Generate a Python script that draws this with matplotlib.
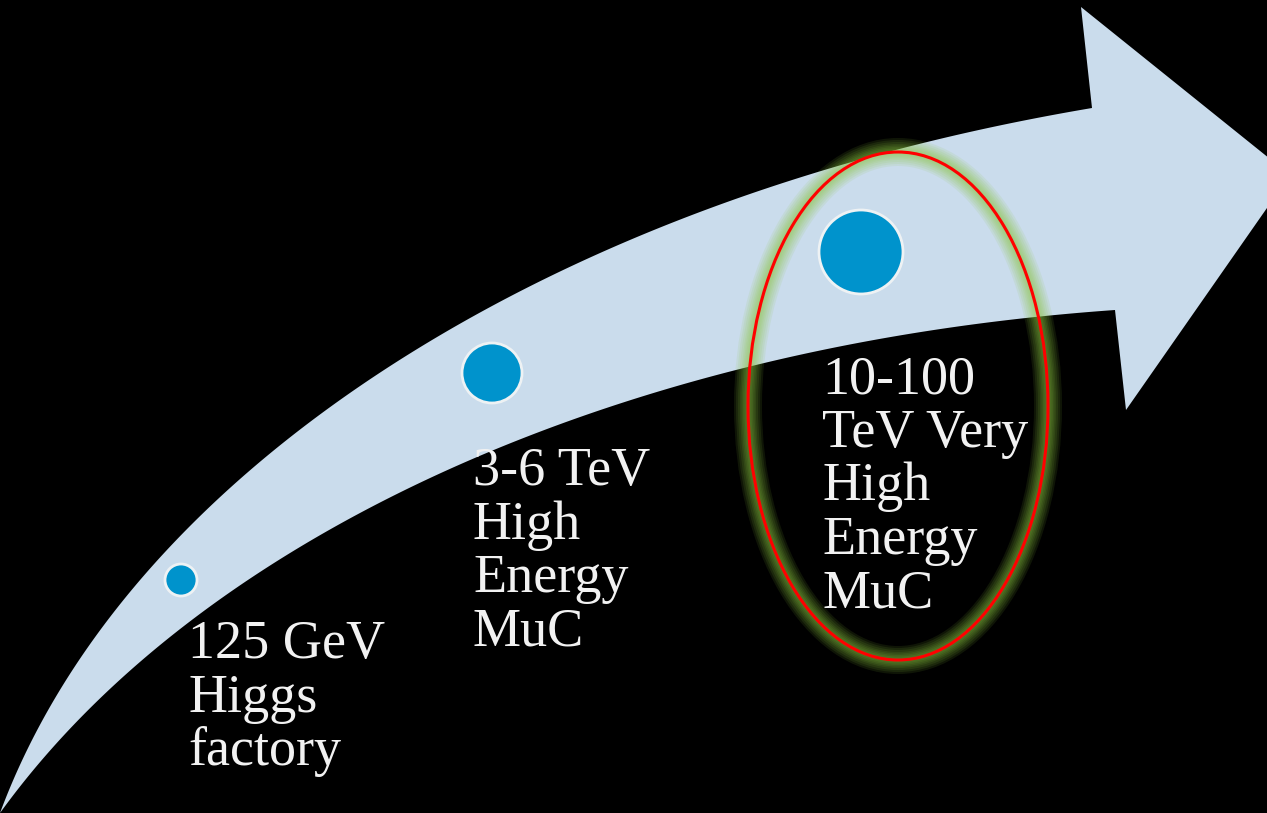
import numpy as np
import matplotlib.pyplot as plt
from matplotlib.patches import Polygon, Circle, Ellipse

# arrow outline, pixel coords (y down)
upper_x = [0, 3, 20, 50, 83, 123, 163, 233, 300, 367, 433, 500, 550, 650, 750, 800, 943, 1020, 1092]
upper_y = [813, 807, 767, 710, 657, 600, 547, 480, 432, 387, 348, 301, 270, 227, 193, 180, 140, 123, 108]
head_x = [1081, 1290, 1126]
head_y = [7, 175, 410]
lower_x = [0, 17, 50, 100, 160, 217, 233, 290, 367, 433, 500, 670, 800, 880, 1060, 1115]
lower_y = [813, 793, 750, 697, 643, 600, 590, 556, 513, 478, 443, 387, 355, 340, 315, 310]

# stage dots
dot_x = [181, 492, 861]
dot_y = [580, 373, 252]
dot_r = [16, 30, 42]

# labels
labels = [
    ["125 GeV", "Higgs", "factory"],
    ["3-6 TeV", "High", "Energy", "MuC"],
    ["10-100", "TeV Very", "High", "Energy", "MuC"],
]
label_x = [188, 473, 822]
label_base = [658, 485, 393]
line_gap = 53.5

# highlight ellipse
ell_center = (898, 406)
ell_w, ell_h = 300, 508


def smooth_edge(xs, ys, deg=4):
    # smooth the hand-read outline: fit x and y against chord length
    xs = np.asarray(xs, float)
    ys = np.asarray(ys, float)
    t = np.r_[0, np.cumsum(np.hypot(np.diff(xs), np.diff(ys)))]
    t /= t[-1]
    w = np.ones_like(t)
    w[0] = w[-1] = 20
    cx = np.polyfit(t, xs, deg, w=w)
    cy = np.polyfit(t, ys, deg, w=w)
    tt = np.linspace(0, 1, 400)
    return np.polyval(cx, tt), np.polyval(cy, tt)


fig = plt.figure(figsize=(12.67, 8.13), dpi=100)
fig.patch.set_facecolor('black')
ax = fig.add_axes([0, 0, 1, 1])
ax.set_facecolor('black')
ax.set_xlim(0, 1267)
ax.set_ylim(813, 0)
ax.axis('off')

ux, uy = smooth_edge(upper_x, upper_y)
lx, ly = smooth_edge(lower_x, lower_y)
pts = list(zip(ux, uy)) + list(zip(head_x, head_y)) + list(zip(lx[::-1], ly[::-1]))
ax.add_patch(Polygon(pts, closed=True, facecolor='#cadcec', edgecolor='none', zorder=1))

for x, y, r in zip(dot_x, dot_y, dot_r):
    ax.add_patch(Circle((x, y), r, facecolor='#0093cc', edgecolor='#eef2f4', lw=2, zorder=3))

# soft green glow round the ellipse
for lw in [28, 24, 20, 16, 13, 10, 7, 4]:
    ax.add_patch(Ellipse(ell_center, ell_w, ell_h, fill=False, edgecolor='#8cc63f',
                         lw=lw * 0.72, alpha=0.11, zorder=2))
ax.add_patch(Ellipse(ell_center, ell_w, ell_h, fill=False, edgecolor='#ff0000', lw=2.2, zorder=4))

for lines, x, b in zip(labels, label_x, label_base):
    for i, s in enumerate(lines):
        ax.text(x, b + i * line_gap, s, color='#f2f2f2', fontsize=39, family='Liberation Serif',
                ha='left', va='baseline', zorder=5)

fig.savefig('out.png', dpi=100, facecolor='black')
